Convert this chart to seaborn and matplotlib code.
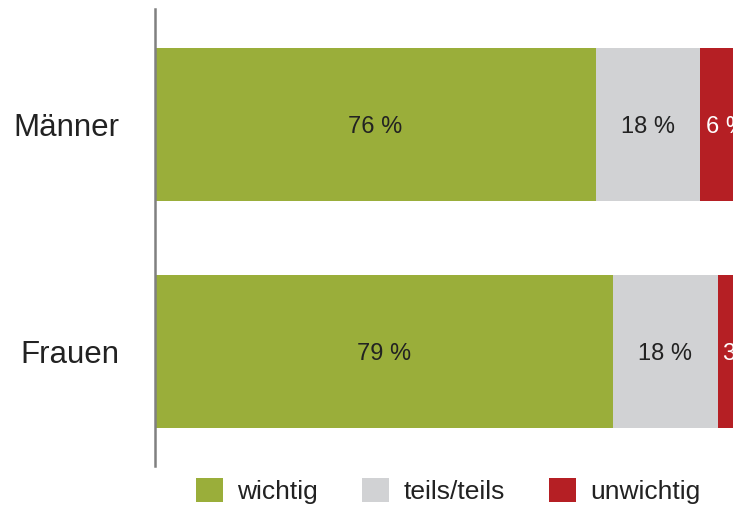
import matplotlib
matplotlib.use("Agg")
import matplotlib.pyplot as plt
from matplotlib.patches import Patch
import seaborn as sns
import pandas as pd

groups = ["Männer", "Frauen"]
categories = ["wichtig", "teils/teils", "unwichtig"]
wichtig = [76, 79]
teils = [18, 18]
unwichtig = [6, 3]

colors = ["#9AAE3A", "#D1D2D4", "#B51F24"]
text_colors = ["#222222", "#222222", "#FFFFFF"]

sns.set_theme(style="white")
plt.rcParams["font.family"] = ["Liberation Sans", "DejaVu Sans"]

df = pd.DataFrame({
    "Gruppe": groups,
    "wichtig": wichtig,
    "teils/teils": teils,
    "unwichtig": unwichtig,
})
cum = df[categories].cumsum(axis=1).assign(Gruppe=df["Gruppe"])

fig = plt.figure(figsize=(7.33, 5.07), dpi=100)
ax = fig.add_axes([155 / 733, 1 - 466 / 507, 580 / 733, 457 / 507])

# stacked bars: draw the cumulative totals from the outermost segment inward
for cat, col in reversed(list(zip(categories, colors))):
    sns.barplot(data=cum, x=cat, y="Gruppe", orient="h", color=col,
                width=0.674, saturation=1, linewidth=0, ax=ax)

# value labels
for i in range(len(groups)):
    start = 0
    for j, cat in enumerate(categories):
        v = df.loc[i, cat]
        if j < 2:
            ax.text(start + v / 2, i + 0.01, f"{v} %", ha="center",
                    va="center", fontsize=17, color=text_colors[j])
        else:
            ax.text(start + 1.0, i + 0.01, f"{v} %", ha="left", va="center",
                    fontsize=17, color=text_colors[j], clip_on=False)
        start += v

ax.set_xlim(0, 100)
ax.set_ylim(1.504, -0.509)
ax.set_xlabel("")
ax.set_ylabel("")
ax.set_xticks([])
ax.tick_params(axis="y", length=0, pad=26, labelsize=22.5,
               labelcolor="#222222")
for s in ["top", "right", "bottom"]:
    ax.spines[s].set_visible(False)
ax.spines["left"].set_color("#808080")
ax.spines["left"].set_linewidth(1.8)

handles = [Patch(facecolor=c, edgecolor="none") for c in colors]
fig.legend(handles, categories, loc="center left",
           bbox_to_anchor=(196 / 733, 1 - 491 / 507), ncol=3, frameon=False,
           fontsize=19, handlelength=1.03, handleheight=1.0,
           handletextpad=0.53, columnspacing=1.67, borderpad=0,
           borderaxespad=0, labelcolor="#222222")

fig.savefig("out.png", dpi=100)
